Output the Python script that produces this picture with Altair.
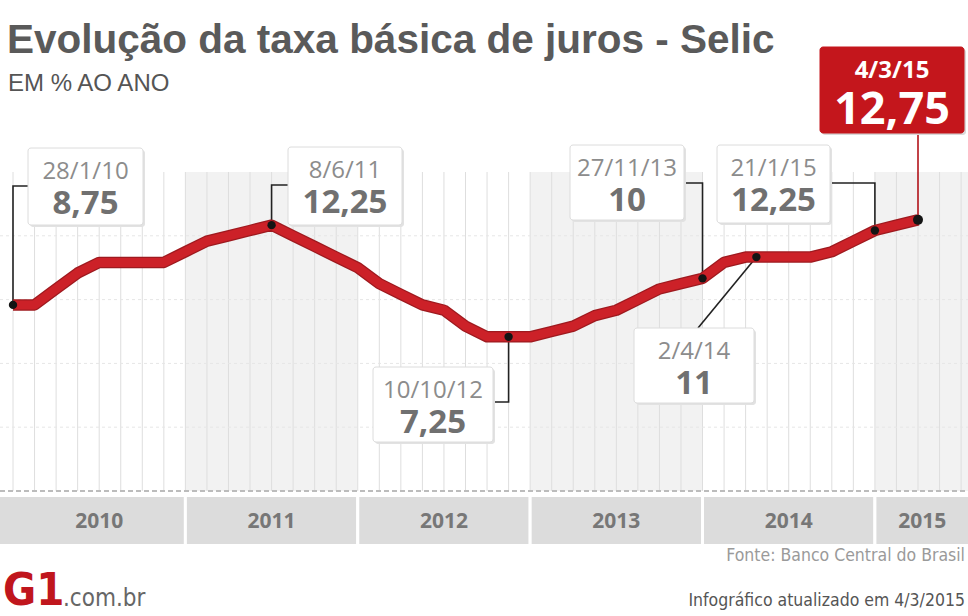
import altair as alt
import pandas as pd
import numpy as np

# ---------------- data ----------------
meeting_idx = list(range(43))          # Copom meetings, Jan/2010 .. Mar/2015
selic = [8.75, 8.75, 9.5, 10.25, 10.75, 10.75, 10.75, 10.75,
         11.25, 11.75, 12.0, 12.25, 12.5, 12.0, 11.5, 11.0,
         10.5, 9.75, 9.25, 8.75, 8.5, 7.75, 7.25, 7.25,
         7.25, 7.5, 7.75, 8.25, 8.5, 9.0, 9.5, 9.75,
         10.0, 10.75, 11.0, 11.0, 11.0, 11.0, 11.25, 11.75,
         12.25, 12.5, 12.75]

grid_idx = list(range(45))
h_grid = [3, 6, 9, 12]

years = ["2010", "2011", "2012", "2013", "2014", "2015"]
year_start = [-1, 8, 16, 24, 32, 40]
year_end = [8, 16, 24, 32, 40, 46]
year_label_at = [4, 12, 20, 28, 36, 42.2]
shade_start = [8, 24, 40]
shade_end = [16, 32, 46]

callout_date = ["28/1/10", "8/6/11", "10/10/12", "27/11/13", "2/4/14", "21/1/15", "4/3/15"]
callout_text = ["8,75", "12,25", "7,25", "10", "11", "12,25", "12,75"]
callout_idx = [0, 12, 23, 32, 34.5, 40, 42]

# ---------------- layout (pixels) ----------------
W, H = 968, 616
X_PX = (13, 918)       # pixel of meeting 0 and 42
Y_PX = (491, 172)      # pixel of 0% and 15%
PXI = (X_PX[1] - X_PX[0]) / 42.0
PXV = (Y_PX[0] - Y_PX[1]) / 15.0

def ix(px):
    return (px - X_PX[0]) / PXI

def vy(py):
    return (Y_PX[0] - py) / PXV

# box: x0, x1, y0, y1 ; connector elbow points (None -> anchor x)
BOXES = [(28, 143, 148, 225), (288, 402, 147, 225), (373, 493, 367, 442),
         (570, 684, 145, 220), (634, 754, 328, 403), (717, 830, 145, 223),
         (820, 964, 47, 133)]
ELBOWS = [[(None, 186), (28, 186)], [(None, 185), (288, 185)],
          [(None, 402), (493, 402)], [(None, 183), (684, 183)],
          [(698, 328)], [(None, 183), (830, 183)], [(None, 133)]]
RED = "#c4161c"

X = alt.Scale(domain=[0, 42], range=list(X_PX), zero=False, nice=False)
Y = alt.Scale(domain=[0, 15], range=list(Y_PX), zero=False, nice=False)

def xq(f):
    return alt.X(f, type="quantitative", scale=X, axis=None)

def yq(f):
    return alt.Y(f, type="quantitative", scale=Y, axis=None)

def x2q(f):
    return alt.X2(f)

def y2q(f):
    return alt.Y2(f)

# ---------------- tables ----------------
line_df = pd.DataFrame({"i": meeting_idx, "v": selic})
grid_df = pd.DataFrame({"g": grid_idx, "top": 15, "bot": 0})
hgrid_df = pd.DataFrame({"h": h_grid})
base_df = pd.DataFrame({"h": [0]})
shade_df = pd.DataFrame({"s": shade_start, "e": shade_end, "top": 15, "bot": 0})
year_df = pd.DataFrame({"year": years, "s": year_start, "e": year_end, "c": year_label_at})

anchor_v = np.interp(callout_idx, meeting_idx, selic)
dot_df = pd.DataFrame({"i": callout_idx, "v": anchor_v,
                       "sz": [70, 70, 70, 70, 70, 70, 100]})

conn_rows, box_rows, text_rows = [], [], []
for k in range(len(callout_idx)):
    red = k == len(callout_idx) - 1
    pts = [(callout_idx[k], anchor_v[k])]
    for (px, py) in ELBOWS[k]:
        pts.append((callout_idx[k] if px is None else ix(px), vy(py)))
    for o, (a, b) in enumerate(pts):
        conn_rows.append({"id": k, "o": o, "x": a, "y": b,
                          "col": "#b3141b" if red else "#222222"})
    x0, x1, y0, y1 = BOXES[k]
    box_rows.append({"x": ix(x0), "x2": ix(x1), "y": vy(y0), "y2": vy(y1),
                     "sx": ix(x0 + 2), "sx2": ix(x1 + 2), "sy": vy(y0 + 2), "sy2": vy(y1 + 2),
                     "fill": RED if red else "#ffffff",
                     "stroke": RED if red else "#dcdcdc",
                     "shadow": "#e2e2e2" if not red else "#d9d9d9"})
    cx = ix((x0 + x1) / 2)
    if red:
        text_rows.append({"x": cx, "y": vy(y0 + 31), "t": callout_date[k], "kind": "rdate"})
        text_rows.append({"x": cx, "y": vy(y0 + 77), "t": callout_text[k], "kind": "rval"})
    else:
        text_rows.append({"x": cx, "y": vy(y0 + 31), "t": callout_date[k], "kind": "date"})
        text_rows.append({"x": cx, "y": vy(y0 + 66), "t": callout_text[k], "kind": "val"})

conn_df = pd.DataFrame(conn_rows)
box_df = pd.DataFrame(box_rows)
text_df = pd.DataFrame(text_rows)

# ---------------- layers ----------------
shade = alt.Chart(shade_df).mark_rect(color="#f2f2f2").encode(
    x=xq("s"), x2=x2q("e"), y=yq("top"), y2=y2q("bot"))

vgrid = alt.Chart(grid_df).mark_rule(color="#dedede", strokeWidth=1).encode(
    x=xq("g"), y=yq("top"), y2=y2q("bot"))

hgrid = alt.Chart(hgrid_df).mark_rule(color="#e6e6e6", strokeWidth=1, strokeDash=[3, 3]).encode(
    y=yq("h"), x=alt.value(0), x2=alt.value(W))

base = alt.Chart(base_df).mark_rule(color="#bcbcbc", strokeWidth=2, strokeDash=[5, 3]).encode(
    y=yq("h"), x=alt.value(0), x2=alt.value(W))

yband = alt.Chart(year_df).mark_rect(color="#dcdcdc", stroke="#ffffff", strokeWidth=3).encode(
    x=xq("s"), x2=x2q("e"), y=alt.value(495.5), y2=alt.value(545.5))

ylab = alt.Chart(year_df).mark_text(font="Open Sans", fontSize=21, fontWeight="bold",
                                    color="#777777", baseline="alphabetic").encode(
    x=xq("c"), y=alt.value(528), text="year:N")

conn = alt.Chart(conn_df).mark_line(strokeWidth=1.6).encode(
    x=xq("x"), y=yq("y"), detail="id:N", order="o:Q",
    color=alt.Color("col:N", scale=None))

line_outer = alt.Chart(line_df).mark_line(color="#9e1a1f", strokeWidth=11.5,
                                          strokeJoin="round").encode(x=xq("i"), y=yq("v"))
line_inner = alt.Chart(line_df).mark_line(color="#cc2128", strokeWidth=9,
                                          strokeJoin="round").encode(x=xq("i"), y=yq("v"))

dots = alt.Chart(dot_df).mark_circle(color="#141414", opacity=1).encode(
    x=xq("i"), y=yq("v"), size=alt.Size("sz:Q", scale=None))

shadow = alt.Chart(box_df).mark_rect(cornerRadius=3).encode(
    x=xq("sx"), x2=x2q("sx2"), y=yq("sy"), y2=y2q("sy2"),
    color=alt.Color("shadow:N", scale=None))

boxes = alt.Chart(box_df).mark_rect(cornerRadius=3, strokeWidth=1).encode(
    x=xq("x"), x2=x2q("x2"), y=yq("y"), y2=y2q("y2"),
    color=alt.Color("fill:N", scale=None),
    stroke=alt.Stroke("stroke:N", scale=None))

def ctext(kind, size, weight, color):
    return alt.Chart(text_df).transform_filter(alt.datum.kind == kind).mark_text(
        font="Open Sans", fontSize=size, fontWeight=weight, color=color,
        baseline="alphabetic", align="center").encode(x=xq("x"), y=yq("y"), text="t:N")

t_date = ctext("date", 24, "normal", "#8c8c8c")
t_val = ctext("val", 33, "bold", "#707070")
t_rdate = ctext("rdate", 24, "bold", "#ffffff")
t_rval = ctext("rval", 45, "bold", "#ffffff")

def label(txt, x, y, size, color, weight="normal", align="left",
          font="Liberation Sans, Arial, sans-serif"):
    return alt.Chart(base_df).mark_text(text=txt, font=font, fontSize=size,
                                        fontWeight=weight, color=color, align=align,
                                        baseline="alphabetic").encode(
        x=alt.value(x), y=alt.value(y))

NARROW = "DejaVu Sans Condensed, Liberation Sans Narrow, sans-serif"
title = label("Evolução da taxa básica de juros - Selic", 7, 53, 40.5, "#5a5a5a", "bold")
subtitle = label("EM % AO ANO", 8, 91, 24, "#555555")
fonte = label("Fonte: Banco Central do Brasil", 965, 561, 17.5, "#9a9a9a", align="right", font=NARROW)
info = label("Infográfico atualizado em 4/3/2015", 965, 606, 17.5, "#555555", align="right", font=NARROW)
g1 = label("G1", 3, 605, 45, "#c0161d", "bold", font=NARROW)
dotcom = label(".com.br", 63, 606, 24, "#666666", font=NARROW)

chart = alt.layer(
    shade, vgrid, hgrid, base, yband, ylab, conn, line_outer, line_inner, dots,
    shadow, boxes, t_date, t_val, t_rdate, t_rval,
    title, subtitle, fonte, info, g1, dotcom
).properties(
    width=W, height=H, padding=0, autosize=alt.AutoSizeParams(type="none"),
    background="#ffffff"
).configure_view(stroke=None)

chart.save("out.html", embed_options={"renderer": "svg", "actions": False})
